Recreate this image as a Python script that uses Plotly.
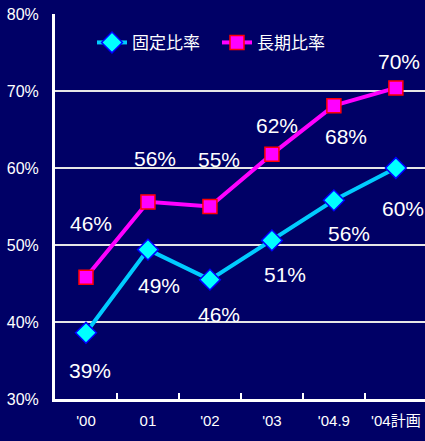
import plotly.graph_objects as go

# Categories and series values (percent)
years = ["'00", "01", "'02", "'03", "'04.9", "'04計画"]
fixed_ratio = [38.6, 49.4, 45.5, 50.6, 55.8, 60.0]      # 固定比率
long_term_ratio = [45.8, 55.6, 55.0, 61.8, 68.1, 70.4]  # 長期比率
y_ticks = [30, 40, 50, 60, 70, 80]

# Label offsets in pixels (dx, dy) relative to each point
fixed_offsets = [(4, -38), (11, -36), (9, -35), (13, -34), (15, -33), (7, -40)]
long_offsets = [(5, 54), (7, 43), (9, 47), (5, 29), (12, -31), (3, 26)]

BG = "#000066"
FONT = "Liberation Sans, Arial, sans-serif"
CJK = "Liberation Sans, Arial, Noto Sans CJK JP, sans-serif"

fig = go.Figure()
fig.add_trace(go.Scatter(
    x=years, y=fixed_ratio, name="固定比率", mode="lines+markers",
    line=dict(color="#00CCFF", width=4),
    marker=dict(symbol="diamond", size=16, color="#00FFFF",
                line=dict(color="#0000FF", width=1.5)),
    cliponaxis=False,
))
fig.add_trace(go.Scatter(
    x=years, y=long_term_ratio, name="長期比率", mode="lines+markers",
    line=dict(color="#FF00FF", width=4),
    marker=dict(symbol="square", size=14, color="#FF00FF",
                line=dict(color="#FF0000", width=1.5)),
    cliponaxis=False,
))

annotations = []
for values, offsets in ((fixed_ratio, fixed_offsets), (long_term_ratio, long_offsets)):
    for x, v, (dx, dy) in zip(years, values, offsets):
        annotations.append(dict(
            x=x, y=v, text=f"{v:.0f}%", showarrow=False,
            xshift=dx, yshift=dy,
            font=dict(family=FONT, size=21, color="#FFFFFF"),
        ))

fig.update_layout(
    width=425, height=441,
    margin=dict(l=55, r=0, t=14, b=42),
    paper_bgcolor=BG, plot_bgcolor=BG,
    showlegend=True,
    legend=dict(
        orientation="h", x=0.1, y=0.925, xanchor="left", yanchor="middle",
        bgcolor="rgba(0,0,0,0)",
        font=dict(family=CJK, size=17, color="#FFFFFF"),
        itemwidth=30, entrywidth=80,
    ),
    annotations=annotations,
    xaxis=dict(
        type="category", range=[-0.5, 5.47],
        tickson="boundaries", ticks="inside", ticklen=6, tickwidth=2,
        tickcolor="#FFFFFF", tickangle=0, automargin=False,
        ticklabelstandoff=6,
        showline=True, linecolor="#FFFFFF", linewidth=3,
        showgrid=False, zeroline=False,
        tickfont=dict(family=CJK, size=15, color="#FFFFFF"),
    ),
    yaxis=dict(
        range=[30, 80], tickvals=y_ticks,
        ticktext=[f"{t}%" for t in y_ticks],
        showline=True, linecolor="#FFFFFF", linewidth=3,
        showgrid=True, gridcolor="#E6E6E6", gridwidth=2,
        zeroline=False, ticks="", ticklabelstandoff=10, automargin=False,
        tickfont=dict(family=FONT, size=16, color="#FFFFFF"),
    ),
)

fig.write_html("out.html")
